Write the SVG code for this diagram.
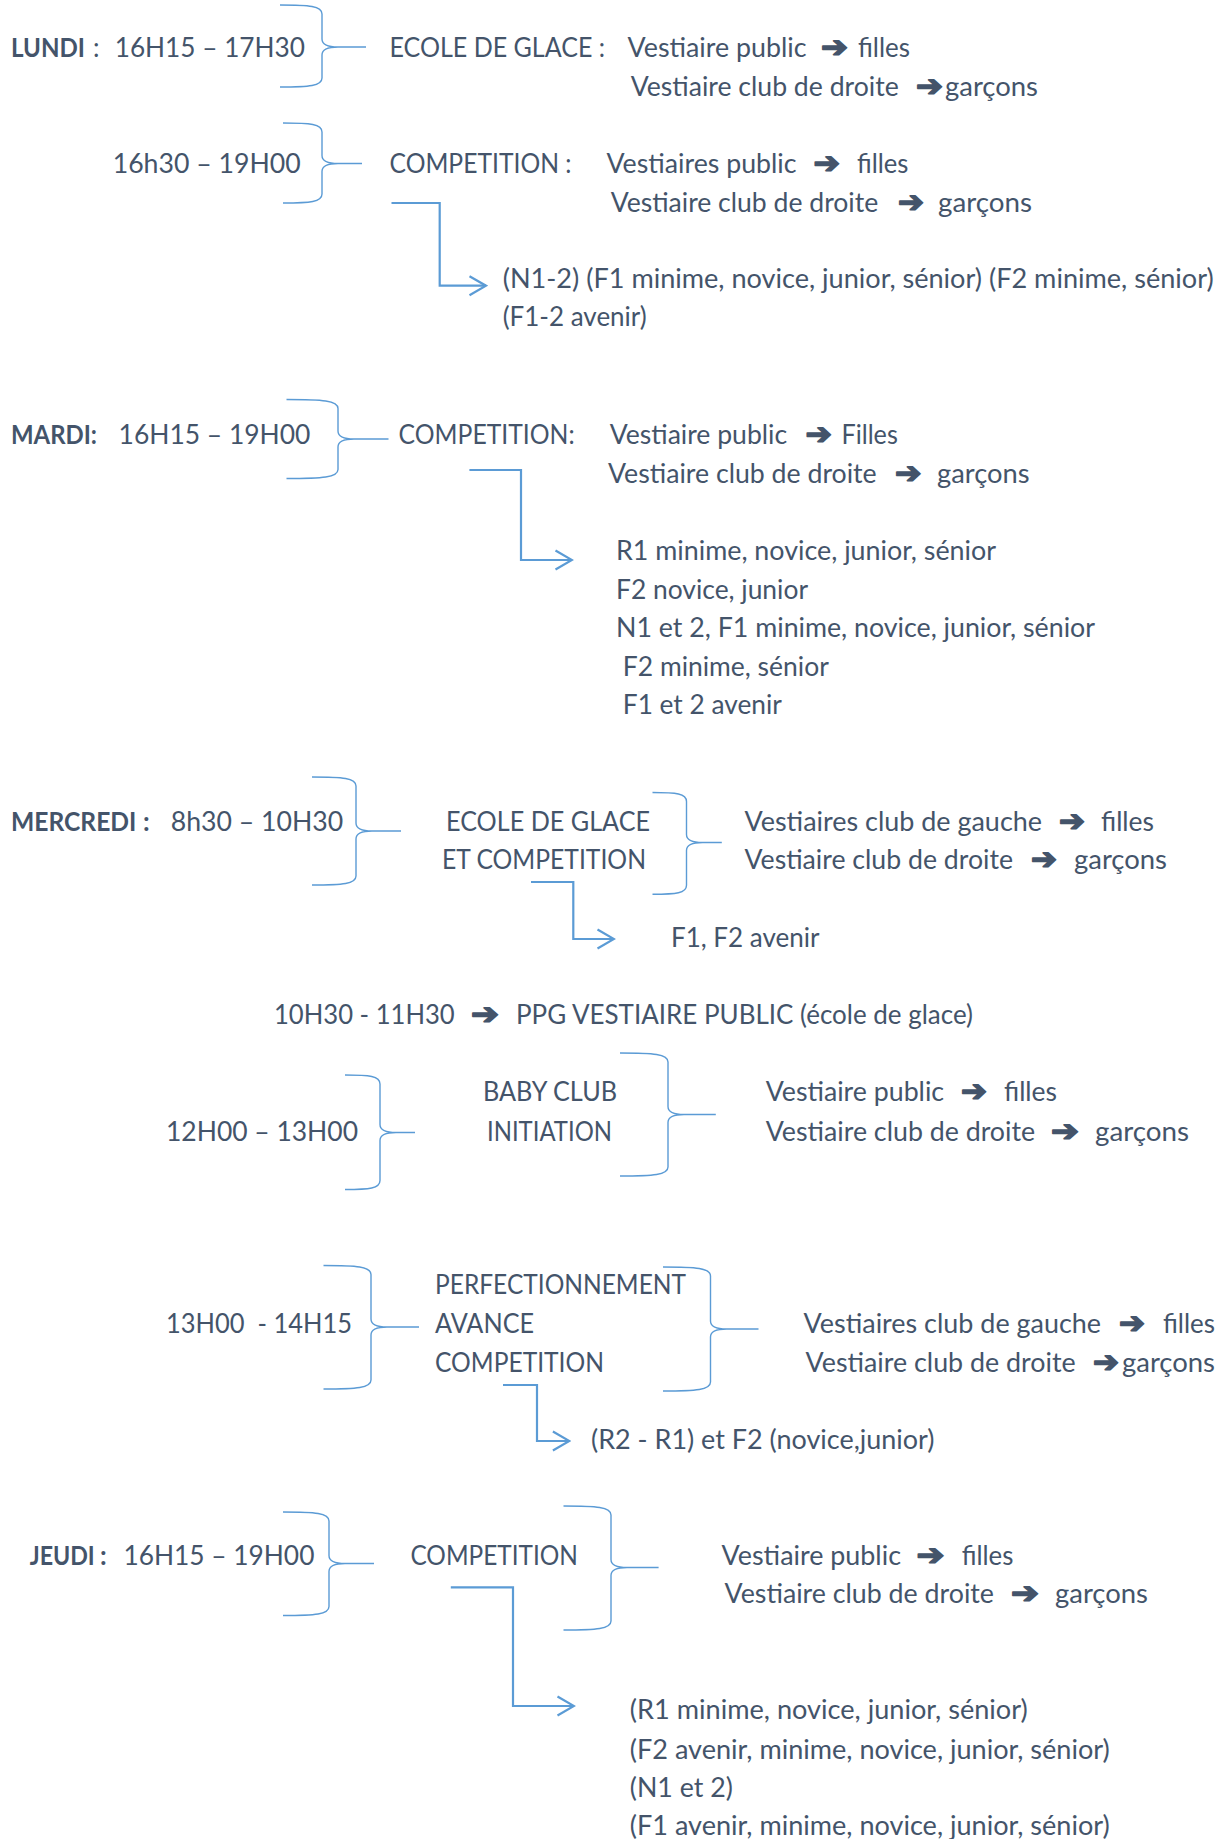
<svg xmlns="http://www.w3.org/2000/svg" width="1226" height="1839" viewBox="0 0 1226 1839">
<style>
.t{font-family:Lato,"Open Sans","DejaVu Sans",sans-serif;font-size:26px;fill:#44546A;white-space:pre}
.b{font-weight:bold}
.ar{font-family:"DejaVu Sans",sans-serif;font-size:29px;fill:#44546A;stroke:#44546A;stroke-width:1.6;stroke-linejoin:round}
.br{fill:none;stroke:#5B9BD5;stroke-width:1.4}
.cn{fill:none;stroke:#5B9BD5;stroke-width:2.2;marker-end:url(#ah)}
</style>
<defs>
<marker id="ah" markerUnits="userSpaceOnUse" viewBox="0 0 20 22" markerWidth="20" markerHeight="22" refX="18" refY="11" orient="auto">
<path d="M1.5,1.5 L18,11 L1.5,20.5" fill="none" stroke="#5B9BD5" stroke-width="2.2"/>
</marker>
</defs>
<rect width="1226" height="1839" fill="#FFFFFF"/>

<g id="connectors">
<path class="br" d="M280,5 C309.4,5 322,6 322,14 L322,39 C322,45 328,47 338,47 L366,47 M338,47 C328,47 322,49 322,55 L322,78 C322,86 309.4,87 280,87"/>
<path class="br" d="M283,123 C310.3,123 322,124 322,132 L322,155.5 C322,161.5 328,163.5 338,163.5 L362,163.5 M338,163.5 C328,163.5 322,165.5 322,171.5 L322,194 C322,202 310.3,203 283,203"/>
<path class="br" d="M286.5,399.5 C322.5,399.5 338,400.5 338,408.5 L338,431 C338,437 344,439 354,439 L388.5,439 M354,439 C344,439 338,441 338,447 L338,469.5 C338,477.5 322.5,478.5 286.5,478.5"/>
<path class="br" d="M312,777 C342.8,777 356,778 356,786 L356,823 C356,829 362,831 372,831 L401,831 M372,831 C362,831 356,833 356,839 L356,876 C356,884 342.8,885 312,885"/>
<path class="br" d="M652.5,792.5 C676.3,792.5 686.5,793.5 686.5,801.5 L686.5,834.5 C686.5,840.5 692.5,842.5 702.5,842.5 L721.8,842.5 M702.5,842.5 C692.5,842.5 686.5,844.5 686.5,850.5 L686.5,885.3 C686.5,893.3 676.3,894.3 652.5,894.3"/>
<path class="br" d="M345,1075 C369.5,1075 380,1076 380,1084 L380,1124.5 C380,1130.5 386,1132.5 396,1132.5 L415,1132.5 M396,1132.5 C386,1132.5 380,1134.5 380,1140.5 L380,1180.5 C380,1188.5 369.5,1189.5 345,1189.5"/>
<path class="br" d="M620,1053 C653.6,1053 668,1054 668,1062 L668,1106.5 C668,1112.5 674,1114.5 684,1114.5 L715.8,1114.5 M684,1114.5 C674,1114.5 668,1116.5 668,1122.5 L668,1167 C668,1175 653.6,1176 620,1176"/>
<path class="br" d="M323.5,1265.5 C356.75,1265.5 371,1266.5 371,1274.5 L371,1319 C371,1325 377,1327 387,1327 L419,1327 M387,1327 C377,1327 371,1329 371,1335 L371,1380 C371,1388 356.75,1389 323.5,1389"/>
<path class="br" d="M663,1267 C696.25,1267 710.5,1268 710.5,1276 L710.5,1321 C710.5,1327 716.5,1329 726.5,1329 L758.5,1329 M726.5,1329 C716.5,1329 710.5,1331 710.5,1337 L710.5,1382 C710.5,1390 696.25,1391 663,1391"/>
<path class="br" d="M283,1512 C315.2,1512 329,1513 329,1521 L329,1555.5 C329,1561.5 335,1563.5 345,1563.5 L374,1563.5 M345,1563.5 C335,1563.5 329,1565.5 329,1571.5 L329,1606.5 C329,1614.5 315.2,1615.5 283,1615.5"/>
<path class="br" d="M563.5,1506 C596.75,1506 611,1507 611,1515 L611,1559.5 C611,1565.5 617,1567.5 627,1567.5 L658.6,1567.5 M627,1567.5 C617,1567.5 611,1569.5 611,1575.5 L611,1621 C611,1629 596.75,1630 563.5,1630"/>
<path class="cn" d="M391.5,203 H439.7 V285.7 H486"/>
<path class="cn" d="M469.4,470 H521 V560 H572"/>
<path class="cn" d="M531,882 H573.3 V939 H614"/>
<path class="cn" d="M503,1385 H537 V1441 H569.4"/>
<path class="cn" d="M450.8,1587.3 H513 V1706 H574"/>
</g>

<g id="lundi-label">
<text class="t b" x="11" y="57" textLength="74" lengthAdjust="spacingAndGlyphs">LUNDI</text>
<text class="t" x="93" y="57">:</text>
<text class="t" x="114.7" y="57" textLength="190.3" lengthAdjust="spacingAndGlyphs">16H15 – 17H30</text>
</g>
<g id="lundi-ecole">
<text class="t" x="389.5" y="57" textLength="215.5" lengthAdjust="spacingAndGlyphs">ECOLE DE GLACE :</text>
</g>
<g id="lundi-ecole-vestiaires">
<text class="t" x="627.6" y="57" textLength="179" lengthAdjust="spacingAndGlyphs">Vestiaire public</text>
<text class="ar" x="821" y="57" textLength="27" lengthAdjust="spacingAndGlyphs">➔</text>
<text class="t" x="858" y="57" textLength="52" lengthAdjust="spacingAndGlyphs">filles</text>
<text class="t" x="630.7" y="96" textLength="268" lengthAdjust="spacingAndGlyphs">Vestiaire club de droite</text>
<text class="ar" x="916" y="96" textLength="27" lengthAdjust="spacingAndGlyphs">➔</text>
<text class="t" x="945" y="96" textLength="93" lengthAdjust="spacingAndGlyphs">garçons</text>
</g>
<g id="lundi-time2">
<text class="t" x="112.7" y="173" textLength="188" lengthAdjust="spacingAndGlyphs">16h30 – 19H00</text>
</g>
<g id="lundi-competition">
<text class="t" x="389.5" y="173" textLength="182" lengthAdjust="spacingAndGlyphs">COMPETITION :</text>
</g>
<g id="lundi-comp-vestiaires">
<text class="t" x="606.5" y="173" textLength="190" lengthAdjust="spacingAndGlyphs">Vestiaires public</text>
<text class="ar" x="813.5" y="173" textLength="26.5" lengthAdjust="spacingAndGlyphs">➔</text>
<text class="t" x="857" y="173" textLength="51.4" lengthAdjust="spacingAndGlyphs">filles</text>
<text class="t" x="610.7" y="212" textLength="267.5" lengthAdjust="spacingAndGlyphs">Vestiaire club de droite</text>
<text class="ar" x="898" y="212" textLength="26" lengthAdjust="spacingAndGlyphs">➔</text>
<text class="t" x="938" y="212" textLength="94" lengthAdjust="spacingAndGlyphs">garçons</text>
</g>
<g id="lundi-categories">
<text class="t" x="502.7" y="288" textLength="711" lengthAdjust="spacingAndGlyphs">(N1-2) (F1 minime, novice, junior, sénior) (F2 minime, sénior)</text>
<text class="t" x="502.7" y="326" textLength="144" lengthAdjust="spacingAndGlyphs">(F1-2 avenir)</text>
</g>

<g id="mardi-label">
<text class="t b" x="11" y="444" textLength="86" lengthAdjust="spacingAndGlyphs">MARDI:</text>
<text class="t" x="118.6" y="444" textLength="191.8" lengthAdjust="spacingAndGlyphs">16H15 – 19H00</text>
</g>
<g id="mardi-competition">
<text class="t" x="398.6" y="444" textLength="176" lengthAdjust="spacingAndGlyphs">COMPETITION:</text>
</g>
<g id="mardi-vestiaires">
<text class="t" x="609.7" y="444" textLength="177.5" lengthAdjust="spacingAndGlyphs">Vestiaire public</text>
<text class="ar" x="805.6" y="444" textLength="26.4" lengthAdjust="spacingAndGlyphs">➔</text>
<text class="t" x="841.5" y="444" textLength="56.3" lengthAdjust="spacingAndGlyphs">Filles</text>
<text class="t" x="608" y="482.5" textLength="268.7" lengthAdjust="spacingAndGlyphs">Vestiaire club de droite</text>
<text class="ar" x="895" y="482.5" textLength="26.5" lengthAdjust="spacingAndGlyphs">➔</text>
<text class="t" x="937" y="482.5" textLength="92.5" lengthAdjust="spacingAndGlyphs">garçons</text>
</g>
<g id="mardi-categories">
<text class="t" x="616" y="560" textLength="380" lengthAdjust="spacingAndGlyphs">R1 minime, novice, junior, sénior</text>
<text class="t" x="616" y="598.5" textLength="192" lengthAdjust="spacingAndGlyphs">F2 novice, junior</text>
<text class="t" x="616" y="637" textLength="479" lengthAdjust="spacingAndGlyphs">N1 et 2, F1 minime, novice, junior, sénior</text>
<text class="t" x="622.8" y="675.5" textLength="206" lengthAdjust="spacingAndGlyphs">F2 minime, sénior</text>
<text class="t" x="622.8" y="714" textLength="159" lengthAdjust="spacingAndGlyphs">F1 et 2 avenir</text>
</g>

<g id="mercredi-label">
<text class="t b" x="11" y="830.7" textLength="125.4" lengthAdjust="spacingAndGlyphs">MERCREDI</text>
<text class="t b" x="143" y="830.7">:</text>
<text class="t" x="170.8" y="830.7" textLength="172.4" lengthAdjust="spacingAndGlyphs">8h30 – 10H30</text>
</g>
<g id="mercredi-ecole-competition">
<text class="t" x="446" y="830.7" textLength="204" lengthAdjust="spacingAndGlyphs">ECOLE DE GLACE</text>
<text class="t" x="442" y="869" textLength="204" lengthAdjust="spacingAndGlyphs">ET COMPETITION</text>
</g>
<g id="mercredi-vestiaires">
<text class="t" x="744.5" y="830.7" textLength="297.5" lengthAdjust="spacingAndGlyphs">Vestiaires club de gauche</text>
<text class="ar" x="1059" y="830.7" textLength="26" lengthAdjust="spacingAndGlyphs">➔</text>
<text class="t" x="1101" y="830.7" textLength="53" lengthAdjust="spacingAndGlyphs">filles</text>
<text class="t" x="744.5" y="869" textLength="268.5" lengthAdjust="spacingAndGlyphs">Vestiaire club de droite</text>
<text class="ar" x="1031" y="869" textLength="26" lengthAdjust="spacingAndGlyphs">➔</text>
<text class="t" x="1074" y="869" textLength="93" lengthAdjust="spacingAndGlyphs">garçons</text>
</g>
<g id="mercredi-categories">
<text class="t" x="671" y="947" textLength="148.5" lengthAdjust="spacingAndGlyphs">F1, F2 avenir</text>
</g>
<g id="mercredi-ppg">
<text class="t" x="274" y="1024" textLength="180.7" lengthAdjust="spacingAndGlyphs">10H30 - 11H30</text>
<text class="ar" x="471" y="1024" textLength="28" lengthAdjust="spacingAndGlyphs">➔</text>
<text class="t" x="516" y="1024" textLength="457" lengthAdjust="spacingAndGlyphs">PPG VESTIAIRE PUBLIC (école de glace)</text>
</g>
<g id="mercredi-time-baby">
<text class="t" x="166" y="1140.5" textLength="192" lengthAdjust="spacingAndGlyphs">12H00 – 13H00</text>
</g>
<g id="mercredi-baby-club">
<text class="t" x="483" y="1100.6" textLength="134" lengthAdjust="spacingAndGlyphs">BABY CLUB</text>
<text class="t" x="487" y="1140.5" textLength="125" lengthAdjust="spacingAndGlyphs">INITIATION</text>
</g>
<g id="mercredi-baby-vestiaires">
<text class="t" x="765.7" y="1100.6" textLength="178.4" lengthAdjust="spacingAndGlyphs">Vestiaire public</text>
<text class="ar" x="961" y="1100.6" textLength="26" lengthAdjust="spacingAndGlyphs">➔</text>
<text class="t" x="1004" y="1100.6" textLength="53" lengthAdjust="spacingAndGlyphs">filles</text>
<text class="t" x="765.7" y="1140.5" textLength="269.4" lengthAdjust="spacingAndGlyphs">Vestiaire club de droite</text>
<text class="ar" x="1051" y="1140.5" textLength="28" lengthAdjust="spacingAndGlyphs">➔</text>
<text class="t" x="1095" y="1140.5" textLength="94" lengthAdjust="spacingAndGlyphs">garçons</text>
</g>
<g id="mercredi-time-perf">
<text class="t" x="166" y="1333" textLength="186" lengthAdjust="spacingAndGlyphs">13H00  - 14H15</text>
</g>
<g id="mercredi-perfectionnement">
<text class="t" x="435" y="1294" textLength="251" lengthAdjust="spacingAndGlyphs">PERFECTIONNEMENT</text>
<text class="t" x="435" y="1333" textLength="99" lengthAdjust="spacingAndGlyphs">AVANCE</text>
<text class="t" x="435" y="1371.5" textLength="169" lengthAdjust="spacingAndGlyphs">COMPETITION</text>
</g>
<g id="mercredi-perf-vestiaires">
<text class="t" x="803.6" y="1333" textLength="297.4" lengthAdjust="spacingAndGlyphs">Vestiaires club de gauche</text>
<text class="ar" x="1119" y="1333" textLength="26" lengthAdjust="spacingAndGlyphs">➔</text>
<text class="t" x="1163" y="1333" textLength="52" lengthAdjust="spacingAndGlyphs">filles</text>
<text class="t" x="805.6" y="1371.5" textLength="270" lengthAdjust="spacingAndGlyphs">Vestiaire club de droite</text>
<text class="ar" x="1093" y="1371.5" textLength="26" lengthAdjust="spacingAndGlyphs">➔</text>
<text class="t" x="1122" y="1371.5" textLength="93" lengthAdjust="spacingAndGlyphs">garçons</text>
</g>
<g id="mercredi-perf-categories">
<text class="t" x="591" y="1449" textLength="343.5" lengthAdjust="spacingAndGlyphs">(R2 - R1) et F2 (novice,junior)</text>
</g>

<g id="jeudi-label">
<text class="t b" x="29.7" y="1565" textLength="65" lengthAdjust="spacingAndGlyphs">JEUDI</text>
<text class="t b" x="100" y="1565">:</text>
<text class="t" x="123.4" y="1565" textLength="191" lengthAdjust="spacingAndGlyphs">16H15 – 19H00</text>
</g>
<g id="jeudi-competition">
<text class="t" x="410.4" y="1565" textLength="167.6" lengthAdjust="spacingAndGlyphs">COMPETITION</text>
</g>
<g id="jeudi-vestiaires">
<text class="t" x="721.6" y="1565" textLength="179.4" lengthAdjust="spacingAndGlyphs">Vestiaire public</text>
<text class="ar" x="916.5" y="1565" textLength="28" lengthAdjust="spacingAndGlyphs">➔</text>
<text class="t" x="961.7" y="1565" textLength="51.7" lengthAdjust="spacingAndGlyphs">filles</text>
<text class="t" x="724.6" y="1603" textLength="269.4" lengthAdjust="spacingAndGlyphs">Vestiaire club de droite</text>
<text class="ar" x="1011" y="1603" textLength="28" lengthAdjust="spacingAndGlyphs">➔</text>
<text class="t" x="1055" y="1603" textLength="93" lengthAdjust="spacingAndGlyphs">garçons</text>
</g>
<g id="jeudi-categories">
<text class="t" x="629.8" y="1719" textLength="398" lengthAdjust="spacingAndGlyphs">(R1 minime, novice, junior, sénior)</text>
<text class="t" x="629.8" y="1758.5" textLength="480" lengthAdjust="spacingAndGlyphs">(F2 avenir, minime, novice, junior, sénior)</text>
<text class="t" x="629.8" y="1797" textLength="103" lengthAdjust="spacingAndGlyphs">(N1 et 2)</text>
<text class="t" x="629.8" y="1835" textLength="480" lengthAdjust="spacingAndGlyphs">(F1 avenir, minime, novice, junior, sénior)</text>
</g>
</svg>
